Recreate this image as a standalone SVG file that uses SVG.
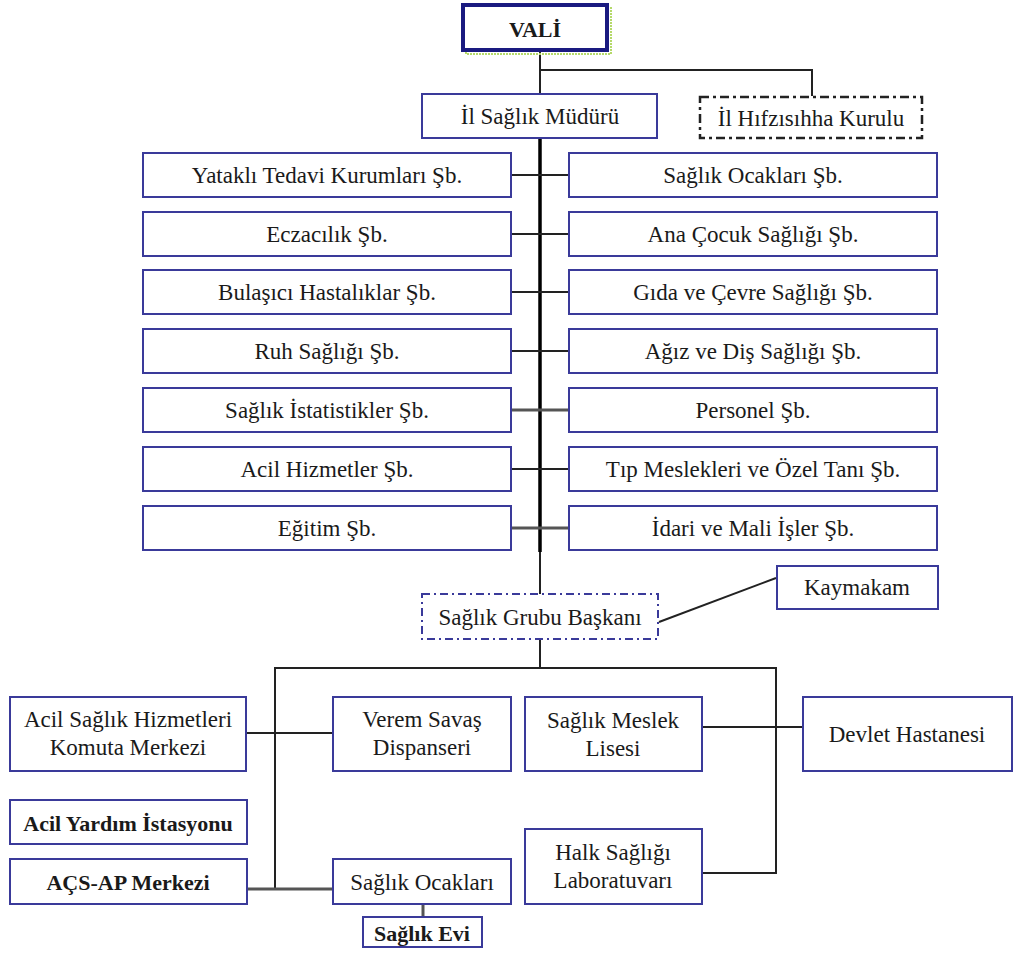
<svg xmlns="http://www.w3.org/2000/svg" width="1014" height="956" viewBox="0 0 1014 956" font-family="Liberation Serif, Times New Roman, serif">
<style>
.box{fill:#fff;stroke:#3a3a9a;stroke-width:2}
.t{font-size:23px;fill:#1a1a1a;text-anchor:middle}
.b{font-weight:bold;font-size:22px}
.ln{stroke:#222;stroke-width:2;fill:none}
.lg{stroke:#555;stroke-width:3;fill:none}
</style>
<rect width="1014" height="956" fill="#fff"/>
<g id="connectors">
<line class="ln" x1="540" y1="50" x2="540" y2="94"/>
<polyline class="ln" points="540,70 812,70 812,96"/>
<line x1="540" y1="138" x2="540" y2="552" stroke="#000" stroke-width="3.5"/>
<line class="ln" x1="540" y1="552" x2="540" y2="594"/>
<line class="ln" x1="511" y1="175" x2="569" y2="175"/>
<line class="ln" x1="511" y1="234" x2="569" y2="234"/>
<line class="ln" x1="511" y1="292" x2="569" y2="292"/>
<line class="ln" x1="511" y1="351" x2="569" y2="351"/>
<line class="lg" x1="511" y1="410" x2="569" y2="410"/>
<line class="ln" x1="511" y1="469" x2="569" y2="469"/>
<line class="lg" x1="511" y1="528" x2="569" y2="528"/>
<line class="ln" x1="659" y1="622" x2="776" y2="578"/>
<line class="ln" x1="540" y1="639" x2="540" y2="668"/>
<line class="ln" x1="274" y1="668" x2="776" y2="668"/>
<line class="ln" x1="275" y1="668" x2="275" y2="889"/>
<line class="ln" x1="776" y1="667" x2="776" y2="873"/>
<line class="ln" x1="246" y1="733" x2="333" y2="733"/>
<line class="ln" x1="702" y1="727" x2="803" y2="727"/>
<line class="lg" x1="247" y1="889" x2="333" y2="889"/>
<line class="ln" x1="702" y1="873" x2="777" y2="873"/>
<line class="lg" x1="423" y1="904" x2="423" y2="917"/>
</g>
<g id="vali">
<rect x="466" y="8" width="145" height="46" fill="none" stroke="#b5d96a" stroke-width="2" stroke-dasharray="2,1"/>
<rect x="463" y="5" width="144" height="45" fill="#fff" stroke="#1a1a80" stroke-width="4"/>
<text class="t b" x="535" y="37">VALİ</text>
</g>
<g id="il-saglik-muduru">
<rect class="box" x="422" y="94" width="235" height="44"/>
<text class="t" x="540" y="124">İl Sağlık Müdürü</text>
</g>
<g id="il-hifzisihha">
<rect x="700" y="97" width="222" height="41" fill="#fff" stroke="#222" stroke-width="2.5" stroke-dasharray="9,4,3,4"/>
<text class="t" x="811" y="126">İl Hıfzısıhha Kurulu</text>
</g>
<g id="yatakli"><rect class="box" x="143" y="153" width="368" height="44"/><text class="t" x="327" y="183">Yataklı Tedavi Kurumları Şb.</text></g>
<g id="saglik-ocaklari-sb"><rect class="box" x="569" y="153" width="368" height="44"/><text class="t" x="753" y="183">Sağlık Ocakları Şb.</text></g>
<g id="eczacilik"><rect class="box" x="143" y="212" width="368" height="44"/><text class="t" x="327" y="242">Eczacılık Şb.</text></g>
<g id="ana-cocuk"><rect class="box" x="569" y="212" width="368" height="44"/><text class="t" x="753" y="242">Ana Çocuk Sağlığı Şb.</text></g>
<g id="bulasici"><rect class="box" x="143" y="270" width="368" height="44"/><text class="t" x="327" y="300">Bulaşıcı Hastalıklar Şb.</text></g>
<g id="gida-cevre"><rect class="box" x="569" y="270" width="368" height="44"/><text class="t" x="753" y="300">Gıda ve Çevre Sağlığı Şb.</text></g>
<g id="ruh"><rect class="box" x="143" y="329" width="368" height="44"/><text class="t" x="327" y="359">Ruh Sağlığı Şb.</text></g>
<g id="agiz-dis"><rect class="box" x="569" y="329" width="368" height="44"/><text class="t" x="753" y="359">Ağız ve Diş Sağlığı Şb.</text></g>
<g id="istatistik"><rect class="box" x="143" y="388" width="368" height="44"/><text class="t" x="327" y="418">Sağlık İstatistikler Şb.</text></g>
<g id="personel"><rect class="box" x="569" y="388" width="368" height="44"/><text class="t" x="753" y="418">Personel Şb.</text></g>
<g id="acil-hizmetler"><rect class="box" x="143" y="447" width="368" height="44"/><text class="t" x="327" y="477">Acil Hizmetler Şb.</text></g>
<g id="tip-meslekleri"><rect class="box" x="569" y="447" width="368" height="44"/><text class="t" x="753" y="477">Tıp Meslekleri ve Özel Tanı Şb.</text></g>
<g id="egitim"><rect class="box" x="143" y="506" width="368" height="44"/><text class="t" x="327" y="536">Eğitim Şb.</text></g>
<g id="idari-mali"><rect class="box" x="569" y="506" width="368" height="44"/><text class="t" x="753" y="536">İdari ve Mali İşler Şb.</text></g>
<g id="saglik-grubu">
<rect x="422" y="594" width="236" height="45" fill="#fff" stroke="#3a3a9a" stroke-width="2" stroke-dasharray="8,4,2,4"/>
<text class="t" x="540" y="625">Sağlık Grubu Başkanı</text>
</g>
<g id="kaymakam"><rect class="box" x="777" y="566" width="161" height="43"/><text class="t" x="857" y="595">Kaymakam</text></g>
<g id="acil-saglik-komuta"><rect class="box" x="10" y="697" width="236" height="74"/><text class="t" x="128" y="727">Acil Sağlık Hizmetleri</text><text class="t" x="128" y="755">Komuta Merkezi</text></g>
<g id="verem"><rect class="box" x="333" y="697" width="178" height="74"/><text class="t" x="422" y="727">Verem Savaş</text><text class="t" x="422" y="755">Dispanseri</text></g>
<g id="meslek-lisesi"><rect class="box" x="525" y="697" width="177" height="74"/><text class="t" x="613" y="728">Sağlık Meslek</text><text class="t" x="613" y="756">Lisesi</text></g>
<g id="devlet-hastanesi"><rect class="box" x="803" y="697" width="209" height="74"/><text class="t" x="907" y="742">Devlet Hastanesi</text></g>
<g id="acil-yardim"><rect class="box" x="10" y="800" width="237" height="44"/><text class="t b" x="128" y="831">Acil Yardım İstasyonu</text></g>
<g id="acs-ap"><rect class="box" x="10" y="859" width="237" height="45"/><text class="t b" x="128" y="890">AÇS-AP Merkezi</text></g>
<g id="saglik-ocaklari"><rect class="box" x="333" y="859" width="178" height="45"/><text class="t" x="422" y="890">Sağlık Ocakları</text></g>
<g id="saglik-evi"><rect class="box" x="363" y="917" width="119" height="30"/><text class="t b" x="422" y="941">Sağlık Evi</text></g>
<g id="halk-sagligi-lab"><rect class="box" x="525" y="829" width="177" height="75"/><text class="t" x="613" y="860">Halk Sağlığı</text><text class="t" x="613" y="888">Laboratuvarı</text></g>
</svg>
